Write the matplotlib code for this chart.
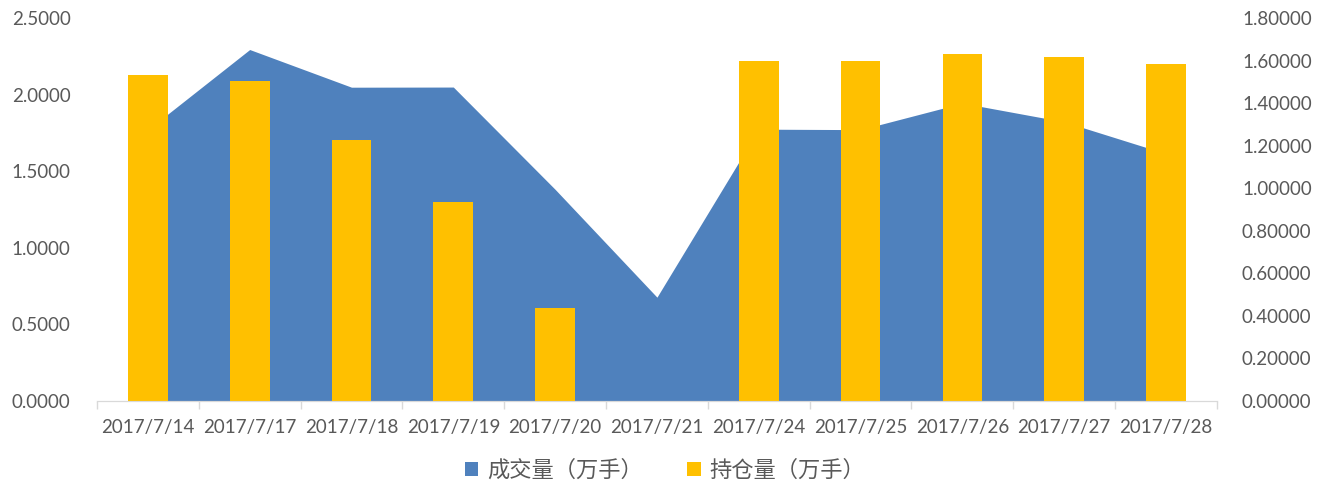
import matplotlib
matplotlib.use("Agg")
import matplotlib.pyplot as plt
from matplotlib.ticker import FormatStrFormatter, FixedLocator
from matplotlib.patches import Patch
import numpy as np

plt.rcParams['font.family'] = ['Lato', 'Noto Sans CJK SC', 'DejaVu Sans']

dates = ["2017/7/14", "2017/7/17", "2017/7/18", "2017/7/19", "2017/7/20", "2017/7/21",
         "2017/7/24", "2017/7/25", "2017/7/26", "2017/7/27", "2017/7/28"]
volume = [1.771, 2.295, 2.049, 2.050, 1.382, 0.678, 1.775, 1.772, 1.945, 1.823, 1.615]
open_interest = [1.532, 1.506, 1.228, 0.934, 0.439, 0.0, 1.599, 1.600, 1.633, 1.617, 1.583]
vol_label = "成交量（万手）"
oi_label = "持仓量（万手）"

blue = "#4F81BD"
gold = "#FFC000"
txt = "#595959"

fig = plt.figure(figsize=(13.3, 4.9), dpi=100)
ax = fig.add_axes([0.0729, 0.1816, 0.915 - 0.0729, 0.963 - 0.1816])
x = np.arange(len(dates))
ax.fill_between(x, 0, volume, color=blue, linewidth=0, zorder=1)
ax.set_xlim(-0.5, len(dates) - 0.5)
ax.set_ylim(0, 2.5)
ax.set_yticks(np.arange(0, 2.51, 0.5))
ax.yaxis.set_major_formatter(FormatStrFormatter('%.4f'))

ax2 = ax.twinx()
ax2.bar(x, open_interest, width=0.39, color=gold, zorder=2)
ax2.set_ylim(0, 1.8)
ax2.set_yticks(np.arange(0, 1.81, 0.2))
ax2.yaxis.set_major_formatter(FormatStrFormatter('%.5f'))

for a in (ax, ax2):
    for s in ("top", "left", "right"):
        a.spines[s].set_visible(False)
    a.spines["bottom"].set_color("#D9D9D9")
    a.tick_params(axis='y', length=0, labelsize=13.5, labelcolor=txt)

ax.tick_params(axis='y', pad=19)
ax2.tick_params(axis='y', pad=18)
ax.set_xticks(x)
ax.set_xticklabels(dates)
ax.tick_params(axis='x', which='major', length=0, labelsize=13.5, labelcolor=txt, pad=13)
ax.xaxis.set_minor_locator(FixedLocator(np.arange(-0.5, len(dates), 1.0)))
ax.tick_params(axis='x', which='minor', length=6, color="#D9D9D9", width=1)

handles = [Patch(facecolor=blue, label=vol_label), Patch(facecolor=gold, label=oi_label)]
leg = fig.legend(handles=handles, loc='center', bbox_to_anchor=(0.5, 0.04), ncol=2,
                 frameon=False, fontsize=16, handlelength=0.6, handleheight=0.6,
                 columnspacing=2.0, handletextpad=0.4)
for t in leg.get_texts():
    t.set_color(txt)

fig.savefig("out.png", dpi=100)
